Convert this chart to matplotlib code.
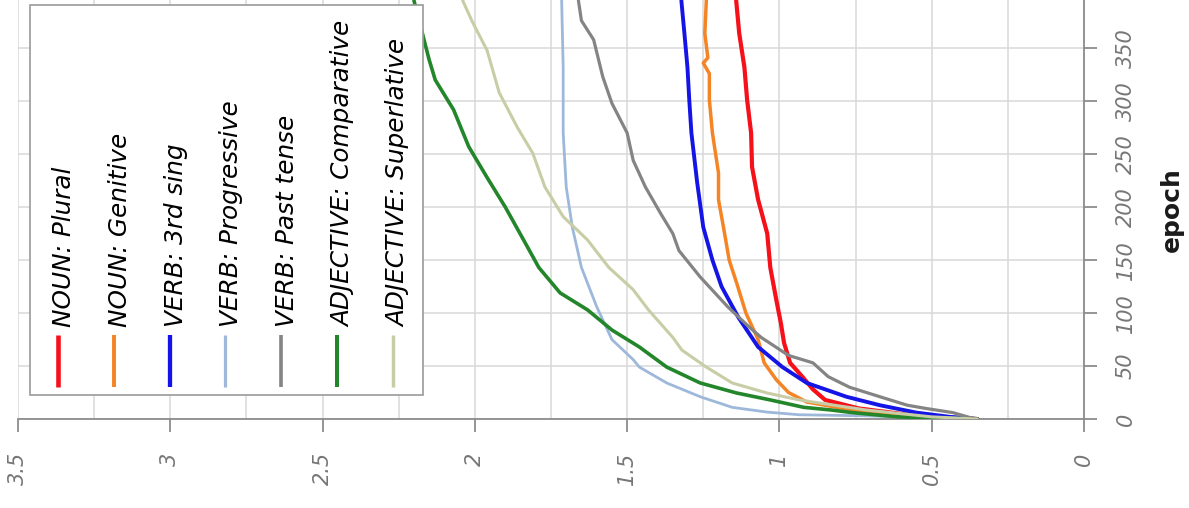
import matplotlib
matplotlib.use("Agg")
import matplotlib.pyplot as plt
from matplotlib.patches import Rectangle
from matplotlib.lines import Line2D
from matplotlib.ticker import MultipleLocator, FixedLocator

W, H = 1189, 508

# ---- series (epoch -> value) ----
series_names = ["NOUN: Plural", "NOUN: Genitive", "VERB: 3rd sing", "VERB: Progressive",
                "VERB: Past tense", "ADJECTIVE: Comparative", "ADJECTIVE: Superlative"]

plural_epoch = [0, 3, 10, 18, 28, 40, 53, 72, 90, 112, 143, 175, 207, 238, 270, 301, 332, 364, 395]
plural_value = [0.35, 0.55, 0.74, 0.85, 0.89, 0.925, 0.965, 0.985, 0.995, 1.01, 1.03, 1.04, 1.07, 1.09,
                1.093, 1.106, 1.115, 1.132, 1.142]

genitive_epoch = [0, 3, 8, 16, 25, 37, 53, 75, 100, 128, 150, 175, 207, 232, 270, 301, 326, 336, 341,
                  364, 395]
genitive_value = [0.35, 0.55, 0.75, 0.91, 0.97, 1.01, 1.05, 1.07, 1.11, 1.14, 1.165, 1.18, 1.20, 1.20,
                  1.22, 1.23, 1.23, 1.25, 1.235, 1.245, 1.24]

third_epoch = [0, 2, 6, 13, 21, 34, 49, 68, 96, 125, 150, 181, 223, 270, 301, 332, 364, 395]
third_value = [0.35, 0.44, 0.55, 0.67, 0.78, 0.91, 0.99, 1.07, 1.135, 1.19, 1.22, 1.25, 1.27, 1.289,
               1.296, 1.302, 1.312, 1.322]

progressive_epoch = [0, 1, 3, 4, 6.5, 11, 21, 34, 49, 56, 75, 106, 143, 181, 219, 270, 332, 395]
progressive_value = [0.35, 0.50, 0.715, 0.935, 1.04, 1.155, 1.26, 1.37, 1.46, 1.48, 1.55, 1.60, 1.65,
                     1.68, 1.70, 1.71, 1.71, 1.715]

past_epoch = [0, 1, 6, 10, 13, 21, 30, 40, 53, 60, 77, 87, 106, 134, 159, 175, 194, 219, 244, 270,
              298, 323, 358, 376, 395]
past_value = [0.35, 0.37, 0.43, 0.52, 0.58, 0.67, 0.77, 0.84, 0.89, 0.97, 1.06, 1.10, 1.17, 1.26,
              1.33, 1.35, 1.39, 1.44, 1.48, 1.50, 1.55, 1.58, 1.61, 1.65, 1.66]

comparative_epoch = [0, 1, 2, 6, 8.5, 11, 18, 24.5, 34, 49, 68, 84, 103, 119, 143, 169, 200, 228,
                     257, 292, 320, 339, 367, 395]
comparative_value = [0.35, 0.50, 0.61, 0.76, 0.83, 0.92, 1.03, 1.14, 1.26, 1.37, 1.46, 1.55, 1.63,
                     1.72, 1.79, 1.84, 1.90, 1.96, 2.02, 2.07, 2.13, 2.15, 2.175, 2.20]

superlative_epoch = [0, 2, 8.5, 18, 24.5, 34, 49, 53, 65, 77, 103, 122, 143, 169, 191, 219, 251, 275,
                     308, 348, 376, 395]
superlative_value = [0.35, 0.50, 0.715, 0.935, 1.04, 1.155, 1.24, 1.26, 1.32, 1.35, 1.43, 1.48, 1.56,
                     1.63, 1.71, 1.77, 1.81, 1.86, 1.92, 1.96, 2.01, 2.04]

series_epochs = [plural_epoch, genitive_epoch, third_epoch, progressive_epoch,
                 past_epoch, comparative_epoch, superlative_epoch]
series_values = [plural_value, genitive_value, third_value, progressive_value,
                 past_value, comparative_value, superlative_value]

series_colors = ["#f5101a", "#f58424", "#1414e6", "#9db8da", "#848484", "#23862a", "#c9cda5"]
series_widths = [3.0, 2.5, 2.8, 2.0, 2.3, 2.6, 2.2]

value_ticks = [0, 0.5, 1, 1.5, 2, 2.5, 3, 3.5]
value_labels = ["0", "0.5", "1", "1.5", "2", "2.5", "3", "3.5"]
epoch_ticks = [0, 50, 100, 150, 200, 250, 300, 350]
epoch_labels = ["0", "50", "100", "150", "200", "250", "300", "350"]


def fx(px):
    return px / W


def fy(py):
    return 1 - py / H


fig = plt.figure(figsize=(W / 100, H / 100), dpi=100)
fig.patch.set_facecolor("white")

# value runs right-to-left along the bottom, epoch runs upward along the right
ax = fig.add_axes([fx(18), fy(419), fx(1084) - fx(18), 419 / H])
ax.set_xlim(3.5, 0)
ax.set_ylim(0, 395.5)

for ep, val, col, lw in zip(series_epochs, series_values, series_colors, series_widths):
    ax.plot(val, ep, color=col, lw=lw, solid_joinstyle="round", solid_capstyle="round", zorder=3)

grid_col = "#d9d9d9"
ax.xaxis.set_major_locator(FixedLocator(value_ticks))
ax.xaxis.set_minor_locator(MultipleLocator(0.25))
ax.yaxis.set_major_locator(FixedLocator(epoch_ticks))
ax.grid(True, axis="x", which="both", color=grid_col, lw=1.1, zorder=0)
ax.grid(True, axis="y", which="major", color=grid_col, lw=1.1, zorder=0)
ax.set_axisbelow(True)

for s in ["top", "left"]:
    ax.spines[s].set_visible(False)
for s in ["bottom", "right"]:
    ax.spines[s].set_color("#8c8c8c")
    ax.spines[s].set_linewidth(1.3)

ax.yaxis.tick_right()
tick_font = dict(family="DejaVu Sans", style="italic", size=15, color="#767676")
ax.set_xticklabels(value_labels, rotation=90, va="top", ha="center", **tick_font)
ax.set_yticklabels(epoch_labels, rotation=90, va="center", ha="left", **tick_font)
ax.tick_params(axis="x", which="major", direction="out", length=9, width=1.3,
               color="#8c8c8c", pad=15)
ax.tick_params(axis="y", which="major", direction="out", length=9, width=1.3,
               color="#8c8c8c", pad=14)
ax.tick_params(which="minor", length=0)

fig.text(fx(1172), fy(210), "epoch", rotation=90, ha="center", va="center",
         family="DejaVu Sans", fontweight="bold", fontsize=18, color="#1a1a1a")

# legend box with upright entries
fig.add_artist(Rectangle((fx(30), fy(395)), fx(423) - fx(30), fy(5) - fy(395),
                         transform=fig.transFigure, facecolor="white",
                         edgecolor="#9a9a9a", lw=1.2, zorder=5))
for i, (name, col, lw) in enumerate(zip(series_names, series_colors, series_widths)):
    cx = 58 + 55.8 * i
    fig.add_artist(Line2D([fx(cx), fx(cx)], [fy(387), fy(335)], transform=fig.transFigure,
                          color=col, lw=lw + 0.3, solid_capstyle="butt", zorder=6))
    fig.text(fx(cx + 13), fy(327), name, rotation=90, rotation_mode="anchor",
             ha="left", va="baseline", family="DejaVu Sans", style="italic",
             fontsize=17.8, color="#000000", zorder=7)

fig.savefig("out.png", dpi=100, facecolor="white")
